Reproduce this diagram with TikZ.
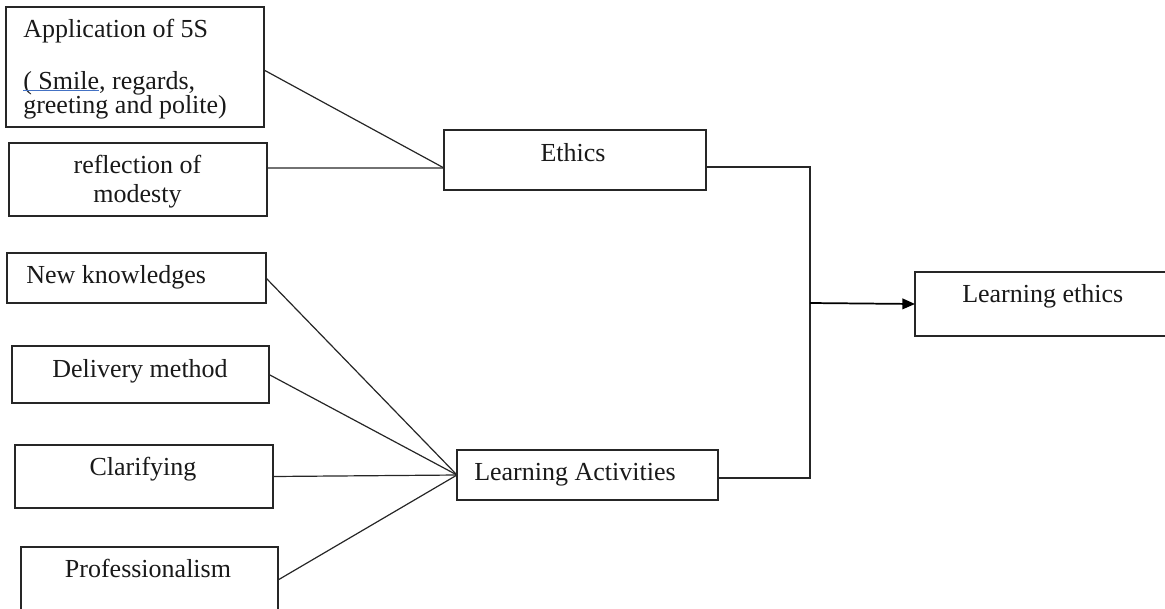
\documentclass[tikz,border=0pt]{standalone}
\usepackage{fontspec}
\setmainfont{Liberation Serif}
\usetikzlibrary{arrows.meta}
\newcommand\tightlns{\lineskiplimit=-30pt\relax\lineskip=0pt\relax\spaceskip=\fontdimen2\font\relax\xspaceskip=\fontdimen2\font\relax}
\tikzset{
  box/.style={draw=black!85, line width=0.9pt, inner sep=0pt, outer sep=0pt, anchor=north west},
  lbl/.style={inner sep=0pt, font=\fontsize{19.5}{22}\selectfont, text=black!90},
  conn/.style={draw=black!85, line width=0.9pt},
  arr/.style={draw=black, line width=1.3pt, -{Triangle[length=9.5pt,width=8pt]}}
}
\begin{document}
\begin{tikzpicture}[x=0.75pt,y=-0.75pt]
\useasboundingbox (0,0) rectangle (1165,608);
\clip (0,0) rectangle (1165,608);
% boxes
\node[box, minimum width=193.5pt, minimum height=90pt] (app) at (6,7) {};
\node[box, minimum width=193.5pt, minimum height=54.75pt] (refl) at (9,143) {};
\node[box, minimum width=196.5pt, minimum height=45pt] (ethics) at (444,130) {};
\node[box, minimum width=194.25pt, minimum height=37.5pt] (newk) at (7,253) {};
\node[box, minimum width=192.75pt, minimum height=42.75pt] (deliv) at (12,346) {};
\node[box, minimum width=193.5pt, minimum height=47.25pt] (clar) at (15,445) {};
\node[box, minimum width=192.75pt, minimum height=49.5pt] (prof) at (21,547) {};
\node[box, minimum width=195.75pt, minimum height=37.5pt] (la) at (457,450) {};
\node[box, minimum width=196.5pt, minimum height=48pt] (le) at (915,272) {};
% texts
\node[lbl, anchor=base west] (t1) at (23,37) {Application of 5S};
\node[lbl, anchor=base west, text width=180pt, align=left,
      font=\fontsize{19.5}{17.25}\selectfont] (t2) at (23,89)
      {\tightlns ( Smile, regards,\\greeting and polite)};
\draw[draw={rgb,255:red,68;green,114;blue,196}, line width=1.1pt] ([yshift=-1.3pt]t2.base west) -- ++(76,0);
\node[lbl, anchor=base] (t4) at (137.5,173) {reflection of};
\node[lbl, anchor=base] (t5) at (137.5,202) {modesty};
\node[lbl, anchor=base] (t6) at (573,161) {Ethics};
\node[lbl, anchor=base west] (t7) at (26,283) {New knowledges};
\node[lbl, anchor=base] (t8) at (140,377) {Delivery method};
\node[lbl, anchor=base] (t9) at (143,475) {Clarifying};
\node[lbl, anchor=base] (t10) at (148,577) {Professionalism};
\node[lbl, anchor=base west] (t11) at (474,480) {Learning Activities};
\node[lbl, anchor=base west] (t12) at (962,302) {Learning ethics};
% connectors
\coordinate (bus) at (810,303);
\draw[conn] ([yshift=-2.25pt]app.east) -- ([yshift=-6pt]ethics.west);
\draw[conn] ([yshift=8.6pt]refl.east) -- ([yshift=-6pt]ethics.west);
\draw[conn] (newk.east) -- (la.west);
\draw[conn] (deliv.east) -- (la.west);
\draw[conn] (clar.east) -- (la.west);
\draw[conn] (prof.east) -- (la.west);
\draw[conn] ([yshift=-5.25pt]ethics.east) -| (bus);
\draw[conn] ([yshift=-2.25pt]la.east) -| (bus);
\draw[arr] (bus) -- (le.west);
\end{tikzpicture}
\end{document}
